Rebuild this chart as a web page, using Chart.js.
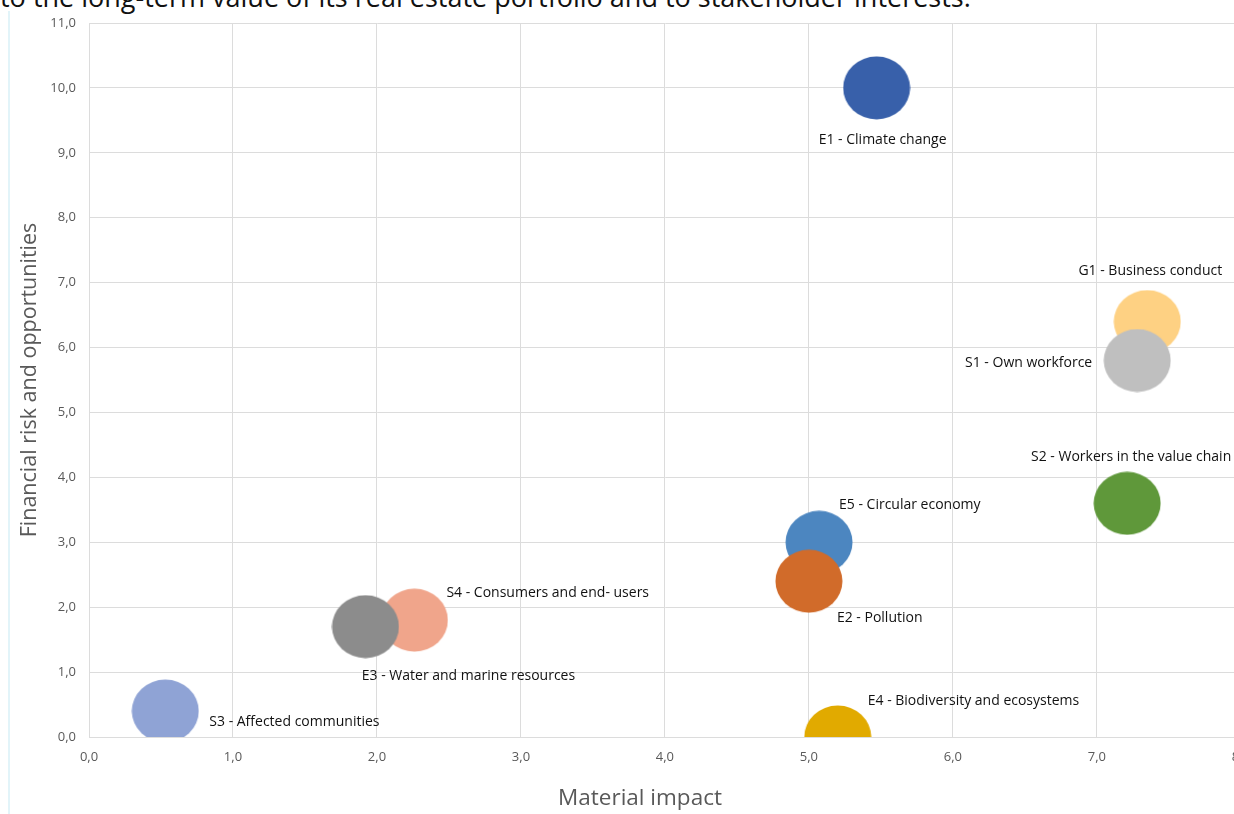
<!DOCTYPE html>
<html>
<head>
<meta charset="utf-8">
<script src="https://cdn.jsdelivr.net/npm/chart.js@4.4.1/dist/chart.umd.min.js"></script>
<style>
  html, body { margin: 0; padding: 0; background: #ffffff; overflow: hidden; width: 1234px; height: 814px; }
  #topText { position: absolute; left: 0; top: -22px; font-family: "Open Sans", sans-serif; font-size: 27px; color: #111; white-space: nowrap; }
  #edge { position: absolute; left: 8px; top: 11px; width: 2px; height: 803px; background: #e2f4f9; }
  #wrap { position: absolute; left: 0; top: 0; width: 1262px; height: 814px; }
</style>
</head>
<body>
<div id="topText">to the long-term value of its real estate portfolio and to stakeholder interests.</div>
<div id="edge"></div>
<div id="wrap"><canvas id="c" width="1262" height="814"></canvas></div>
<script>
// ---- data ----
const categories = [
  'E1 - Climate change',
  'E2 - Pollution',
  'E3 - Water and marine resources',
  'E4 - Biodiversity and ecosystems',
  'E5 - Circular economy',
  'S1 - Own workforce',
  'S2 - Workers in the value chain',
  'S3 - Affected communities',
  'S4 - Consumers and end- users',
  'G1 - Business conduct'
];
const materialImpact = [5.47, 5.0, 1.92, 5.2, 5.07, 7.28, 7.21, 0.53, 2.26, 7.35];
const financialRisk  = [10.0, 2.4, 1.7, 0.0, 3.0, 5.8, 3.6, 0.4, 1.8, 6.4];
const xTickLabels = ['0,0','1,0','2,0','3,0','4,0','5,0','6,0','7,0','8,0'];
const yTickLabels = ['0,0','1,0','2,0','3,0','4,0','5,0','6,0','7,0','8,0','9,0','10,0','11,0'];
const xAxisTitle = 'Material impact';
const yAxisTitle = 'Financial risk and opportunities';

// ---- styles ----
const colors = ['#3860aa','#d16b2a','#8c8c8c','#e1aa00','#4c86c0','#bfbfbf','#5f983a','#8fa3d5','#f0a58b','#fed183'];
const labelPlacement = [
  {align:'center', dx: 6,   dy: 52},
  {align:'left',   dx: 28,  dy: 37},
  {align:'center', dx: 103, dy: 49},
  {align:'left',   dx: 30,  dy: -36},
  {align:'left',   dx: 20,  dy: -37},
  {align:'right',  dx: -45, dy: 2},
  {align:'center', dx: 4,   dy: -46},
  {align:'left',   dx: 44,  dy: 11},
  {align:'left',   dx: 32,  dy: -27},
  {align:'center', dx: 3,   dy: -51}
];

function ellipseStyle(color) {
  const c = document.createElement('canvas');
  c.width = 68; c.height = 64;
  const g = c.getContext('2d');
  g.fillStyle = color;
  g.beginPath();
  g.ellipse(34, 32, 33.5, 31.5, 0, 0, Math.PI * 2);
  g.fill();
  return c;
}

const datasets = categories.map((name, i) => ({
  label: name,
  data: [{x: materialImpact[i], y: financialRisk[i]}],
  backgroundColor: colors[i],
  borderWidth: 0,
  radius: 33,
  pointStyle: ellipseStyle(colors[i]),
  clip: 0
}));

const labelPlugin = {
  id: 'bubbleLabels',
  afterDatasetsDraw(chart) {
    const ctx = chart.ctx;
    ctx.save();
    ctx.font = '14px "Open Sans", sans-serif';
    ctx.fillStyle = '#111111';
    ctx.textBaseline = 'middle';
    chart.data.datasets.forEach((ds, i) => {
      const el = chart.getDatasetMeta(i).data[0];
      const p = labelPlacement[i];
      ctx.textAlign = p.align;
      ctx.fillText(ds.label, el.x + p.dx, el.y + p.dy);
    });
    // x axis title (offset left of plot centre as in the source figure)
    const ca = chart.chartArea;
    ctx.font = '22.5px "Open Sans", sans-serif';
    ctx.fillStyle = '#595959';
    ctx.textAlign = 'center';
    ctx.fillText(xAxisTitle, ca.left + 551, ca.bottom + 62);
    ctx.restore();
  }
};

const gridColor = '#dcdcdc';
new Chart(document.getElementById('c'), {
  type: 'bubble',
  data: { datasets },
  plugins: [labelPlugin],
  options: {
    responsive: false,
    animation: false,
    events: [],
    layout: { autoPadding: false, padding: { left: 0, top: 23, right: 21, bottom: 0 } },
    plugins: { legend: { display: false }, tooltip: { enabled: false } },
    scales: {
      x: {
        type: 'linear', min: 0, max: 8,
        afterFit(s) { s.height = 77; },
        grid: { color: gridColor, drawTicks: false },
        border: { color: gridColor },
        ticks: {
          stepSize: 1, padding: 12, color: '#595959',
          font: { family: '"Open Sans", sans-serif', size: 13 },
          callback: (v) => xTickLabels[Math.round(v)]
        },
        title: { display: false }
      },
      y: {
        type: 'linear', min: 0, max: 11,
        afterFit(s) { s.width = 89; },
        grid: { color: gridColor, drawTicks: false },
        border: { color: gridColor },
        ticks: {
          stepSize: 1, padding: 13, color: '#595959',
          font: { family: '"Open Sans", sans-serif', size: 13 },
          callback: (v) => yTickLabels[Math.round(v)]
        },
        title: {
          display: true, text: yAxisTitle, color: '#595959',
          font: { family: '"Open Sans", sans-serif', size: 21.5 },
          padding: { top: 17, bottom: 0 }
        }
      }
    }
  }
});
</script>
</body>
</html>
